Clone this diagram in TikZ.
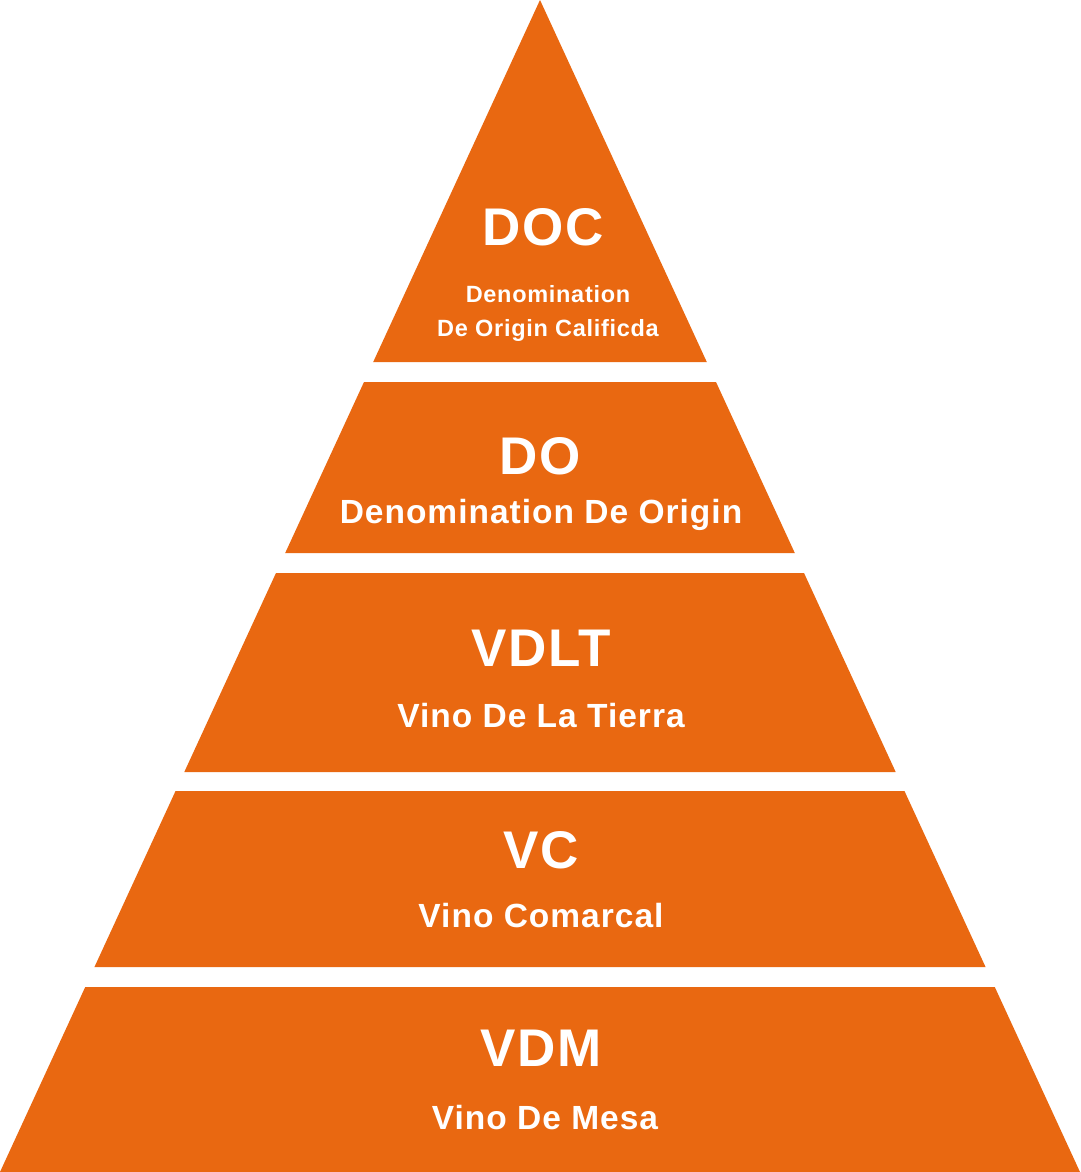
\documentclass[tikz,border=0pt]{standalone}
\usepackage{fontspec}
\setmainfont{Liberation Sans}
\newfontfamily\labfont{Liberation Sans}[LetterSpace=3]
\definecolor{pyr}{RGB}{233,104,17}
\newcommand{\lx}[1]{540-0.460751*#1}
\newcommand{\rx}[1]{540+0.460751*#1}
\newcommand{\layerband}[2]{\fill[pyr] ({\lx{#1}},#1) -- ({\rx{#1}},#1) -- ({\rx{#2}},#2) -- ({\lx{#2}},#2) -- cycle; }
\tikzset{
  bigtxt/.style={anchor=base, text=white, font=\labfont\bfseries\fontsize{53}{60}\selectfont, inner sep=0pt},
  subtxt/.style={anchor=base, text=white, font=\labfont\bfseries\fontsize{33.5}{38}\selectfont, inner sep=0pt},
  smalltxt/.style={anchor=base, text=white, font=\labfont\bfseries\fontsize{23.5}{28}\selectfont, inner sep=0pt}
}
\begin{document}
\begin{tikzpicture}[x=1pt,y=-1pt]
\useasboundingbox (0,0) rectangle (1080,1172);
\fill[white] (0,0) rectangle (1080,1172);
% top triangle
\fill[pyr] (540,0) -- ({\rx{362}},362) -- ({\lx{362}},362) -- cycle;
\layerband{382}{553}
\layerband{573}{772}
\layerband{791}{967}
\layerband{987}{1172}
% texts
\node[bigtxt] (doc) at (543,245) {DOC};
\node[smalltxt] (doc1) at (548,302) {Denomination};
\node[smalltxt] (doc2) at (548,336) {De Origin Calificda};
\node[bigtxt] (do) at (540,474) {DO};
\node[subtxt] (do1) at (541,523) {Denomination De Origin};
\node[bigtxt] (vdlt) at (541,666) {VDLT};
\node[subtxt] (vdlt1) at (541,727) {Vino De La Tierra};
\node[bigtxt] (vc) at (541,868) {VC};
\node[subtxt] (vc1) at (541,927) {Vino Comarcal};
\node[bigtxt] (vdm) at (541,1066) {VDM};
\node[subtxt] (vdm1) at (545,1129) {Vino De Mesa};
\end{tikzpicture}
\end{document}
